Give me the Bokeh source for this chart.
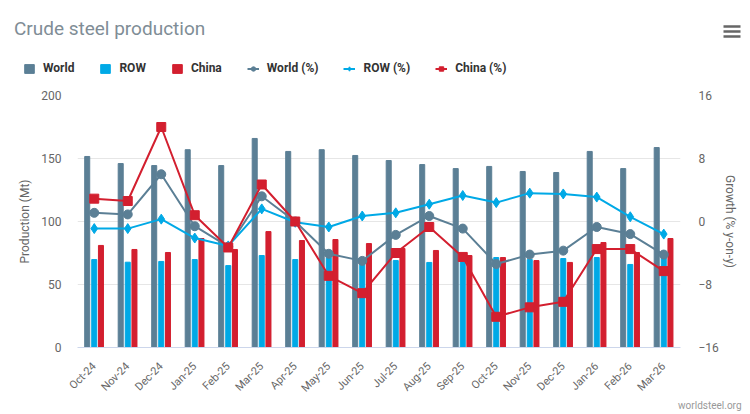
import math
from bokeh.plotting import figure
from bokeh.layouts import column
from bokeh.models import (FactorRange, Range1d, LinearAxis, ColumnDataSource, Legend,
                          LegendItem, Label, BoxAnnotation, FixedTicker, Title)
from bokeh.transform import dodge
from bokeh.embed import file_html
from bokeh.resources import INLINE

months = ["Oct-24", "Nov-24", "Dec-24", "Jan-25", "Feb-25", "Mar-25", "Apr-25", "May-25",
          "Jun-25", "Jul-25", "Aug-25", "Sep-25", "Oct-25", "Nov-25", "Dec-25", "Jan-26",
          "Feb-26", "Mar-26"]
world = [151.6, 146.0, 144.4, 157.0, 144.4, 165.9, 155.6, 157.0, 152.4, 148.4, 145.2, 142.0,
         143.7, 139.7, 138.9, 155.6, 142.0, 158.7]
row = [69.8, 67.7, 68.3, 69.8, 65.0, 73.0, 69.8, 71.0, 69.0, 69.0, 67.5, 68.3,
       71.4, 69.8, 70.6, 71.4, 65.9, 71.4]
china = [81.0, 77.8, 75.4, 86.5, 77.8, 92.0, 84.9, 85.7, 82.5, 78.6, 77.0, 73.0,
         71.4, 69.0, 67.5, 83.3, 75.4, 86.5]
world_pct = [1.1, 0.9, 6.0, -0.6, -3.2, 3.2, 0.0, -4.1, -5.0, -1.7, 0.7, -0.9,
             -5.4, -4.2, -3.7, -0.7, -1.6, -4.2]
row_pct = [-0.9, -0.9, 0.3, -2.1, -3.1, 1.6, -0.1, -0.7, 0.7, 1.1, 2.2, 3.3,
           2.4, 3.6, 3.5, 3.1, 0.6, -1.6]
china_pct = [2.9, 2.6, 12.0, 0.8, -3.3, 4.7, 0.0, -6.9, -9.1, -4.0, -0.7, -4.5,
             -12.1, -10.9, -10.2, -3.5, -3.5, -6.3]
left_ticks = [0, 50, 100, 150, 200]
right_ticks = [-16, -8, 0, 8, 16]

C_WORLD = "#5b7f95"
C_ROW = "#00a9e6"
C_CHINA = "#d31f2f"
FONT = "Roboto"
TXT = "#666666"

# ---------------- header (title, legend, menu icon) ----------------
hdr = figure(width=742, height=84, x_range=Range1d(0, 742), y_range=Range1d(0, 84),
             output_backend="svg", toolbar_location=None, x_axis_type=None, y_axis_type=None,
             min_border=0, min_border_left=0, min_border_right=0, min_border_top=0,
             min_border_bottom=0)
hdr.outline_line_color = None
hdr.xgrid.grid_line_color = None
hdr.ygrid.grid_line_color = None

# legend-only glyph renderers, positioned outside the header's visible range
d_w = hdr.vbar(x=[-1000], top=[-1000], width=1, color=C_WORLD)
d_r = hdr.vbar(x=[-1000], top=[-1000], width=1, color=C_ROW)
d_c = hdr.vbar(x=[-1000], top=[-1000], width=1, color=C_CHINA)
dl_w = hdr.line(x=[-1000, -999], y=[-1000, -1000], color=C_WORLD, line_width=2)
dm_w = hdr.scatter(x=[-1000], y=[-1000], marker="circle", size=8, color=C_WORLD)
dl_r = hdr.line(x=[-1000, -999], y=[-1000, -1000], color=C_ROW, line_width=2)
dm_r = hdr.scatter(x=[-1000], y=[-1000], marker="diamond", size=9, color=C_ROW)
dl_c = hdr.line(x=[-1000, -999], y=[-1000, -1000], color=C_CHINA, line_width=2)
dm_c = hdr.scatter(x=[-1000], y=[-1000], marker="square", size=8, color=C_CHINA)

legend = Legend(items=[
    LegendItem(label="World", renderers=[d_w]),
    LegendItem(label="ROW", renderers=[d_r]),
    LegendItem(label="China", renderers=[d_c]),
    LegendItem(label="World (%)", renderers=[dl_w, dm_w]),
    LegendItem(label="ROW (%)", renderers=[dl_r, dm_r]),
    LegendItem(label="China (%)", renderers=[dl_c, dm_c]),
], location=(23, 9), orientation="horizontal")
legend.border_line_color = None
legend.background_fill_alpha = 0
legend.padding = 0
legend.margin = 0
legend.spacing = 25
legend.glyph_width = 12
legend.glyph_height = 11
legend.label_standoff = 8
legend.label_text_font = FONT
legend.label_text_font_size = "12px"
legend.label_text_font_style = "bold"
legend.label_text_color = "#333333"
legend.label_height = 14
hdr.add_layout(legend)

title = Label(x=13.4, y=68, x_units="screen", y_units="screen", text="Crude steel production",
              text_font=FONT, text_font_size="19px", text_color="#7f8d96",
              text_baseline="top", text_align="left")
hdr.add_layout(title)

for yc in (58, 53, 48):
    hdr.add_layout(BoxAnnotation(left=723, right=740, bottom=yc - 1.3, top=yc + 1.3,
                                 left_units="screen", right_units="screen",
                                 top_units="screen", bottom_units="screen",
                                 fill_color="#666666", fill_alpha=1, line_color=None))

# ---------------- main chart ----------------
src = ColumnDataSource(dict(month=months, world=world, row=row, china=china,
                            world_pct=world_pct, row_pct=row_pct, china_pct=china_pct))

p = figure(x_range=FactorRange(factors=months, range_padding=0), y_range=Range1d(0, 200),
           frame_width=603, frame_height=252, output_backend="svg", toolbar_location=None,
           min_border_left=77, min_border_right=62, min_border_top=11, min_border_bottom=66)
p.extra_y_ranges = {"pct": Range1d(-16, 16)}
p.outline_line_color = None

for fig in (hdr, p):
    if "frame_align" in fig.properties():
        fig.frame_align = False

p.vbar(x=dodge("month", -0.21, range=p.x_range), top="world", width=0.15,
       color=C_WORLD, source=src)
p.vbar(x=dodge("month", 0.0, range=p.x_range), top="row", width=0.15,
       color=C_ROW, source=src)
p.vbar(x=dodge("month", 0.2, range=p.x_range), top="china", width=0.15,
       color=C_CHINA, source=src)

p.line(x="month", y="world_pct", y_range_name="pct", source=src, color=C_WORLD, line_width=2)
p.scatter(x="month", y="world_pct", y_range_name="pct", source=src, marker="circle",
          size=9, color=C_WORLD)
p.line(x="month", y="row_pct", y_range_name="pct", source=src, color=C_ROW, line_width=2)
p.scatter(x="month", y="row_pct", y_range_name="pct", source=src, marker="diamond",
          size=10, color=C_ROW)
p.line(x="month", y="china_pct", y_range_name="pct", source=src, color=C_CHINA, line_width=2)
p.scatter(x="month", y="china_pct", y_range_name="pct", source=src, marker="square",
          size=9, color=C_CHINA)

p.xgrid.grid_line_color = None
p.ygrid.grid_line_color = "#e6e6e6"

ya = p.yaxis[0]
ya.ticker = FixedTicker(ticks=left_ticks)
ya.axis_label = "Production (Mt)"
ya.axis_line_color = None
ya.major_tick_line_color = None
ya.minor_tick_line_color = None
ya.major_label_standoff = 10
ya.axis_label_standoff = 6
ya.major_label_text_font = FONT
ya.major_label_text_font_size = "12px"
ya.major_label_text_color = TXT
ya.axis_label_text_font = FONT
ya.axis_label_text_font_size = "12px"
ya.axis_label_text_font_style = "normal"
ya.axis_label_text_color = TXT

ra = LinearAxis(y_range_name="pct", ticker=FixedTicker(ticks=right_ticks),
                axis_label="Growth (% y-on-y)")
ra.axis_line_color = None
ra.major_tick_line_color = None
ra.minor_tick_line_color = None
ra.major_label_standoff = 12
ra.axis_label_standoff = 1
ra.major_label_text_font = FONT
ra.major_label_text_font_size = "12px"
ra.major_label_text_color = TXT
ra.axis_label_text_font = FONT
ra.axis_label_text_font_size = "12px"
ra.axis_label_text_font_style = "normal"
ra.axis_label_text_color = TXT
p.add_layout(ra, "right")

xa = p.xaxis[0]
xa.major_label_orientation = math.pi / 4
xa.major_tick_line_color = None
xa.minor_tick_line_color = None
xa.axis_line_color = "#ccd6eb"
xa.major_label_text_font = FONT
xa.major_label_text_font_size = "11px"
xa.major_label_text_color = TXT
xa.major_label_standoff = 11

credit = Title(text="worldsteel.org", align="right", offset=-61, standoff=0,
               text_font=FONT, text_font_size="10px", text_color="#999999",
               text_font_style="normal")
try:
    credit.standoff = -9
except Exception:
    credit.standoff = 0
    xa.major_label_standoff = 4
p.add_layout(credit, "below")

open("out.html", "w").write(file_html(column(hdr, p), INLINE))
